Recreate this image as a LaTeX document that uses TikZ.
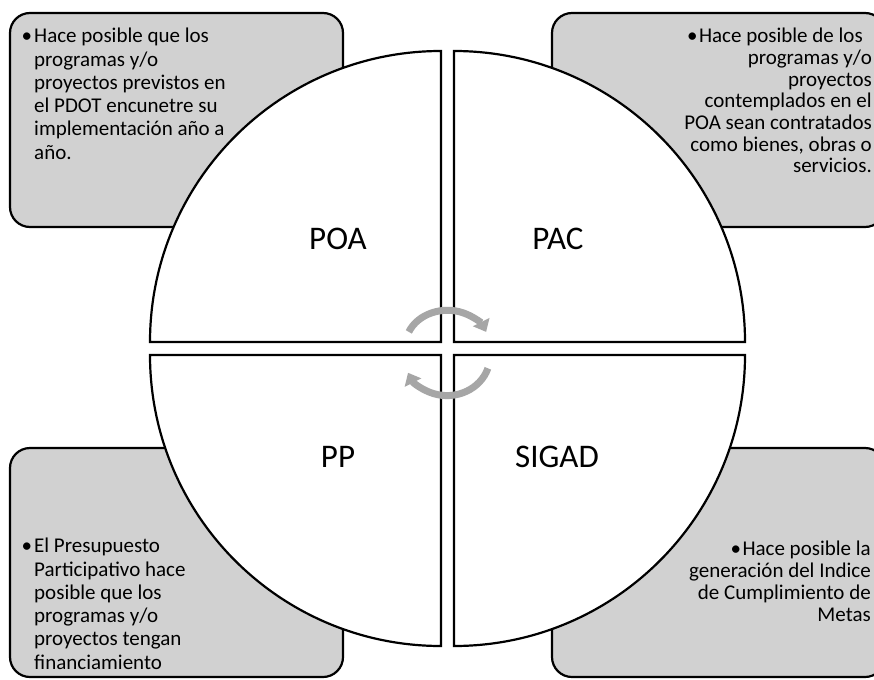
\documentclass[tikz,border=0pt]{standalone}
\usepackage{fontspec}
\setmainfont{Carlito}
\usetikzlibrary{arrows.meta}
\definecolor{boxgray}{RGB}{209,209,209}
\definecolor{arrowgray}{RGB}{166,166,166}
\begin{document}
\begin{tikzpicture}[x=1pt,y=-1pt,
  infobox/.style={draw=black, line width=2.2pt, fill=boxgray, rounded corners=20pt, inner sep=0pt},
  quad/.style={draw=black, line width=2.2pt, fill=white, line join=miter},
  cyc/.style={draw=arrowgray, line width=7pt, -{Triangle[width=18pt,length=11pt]}},
  qlabel/.style={font=\fontsize{33}{40}\selectfont, inner sep=0pt},
  ltext/.style={font=\fontsize{21}{23.3}\selectfont, align=left, inner sep=0pt, anchor=north west},
  rtext/.style={font=\fontsize{21}{21.7}\selectfont, align=right, inner sep=0pt, anchor=north east}]
\useasboundingbox (0,0) rectangle (874,679);
\fill[white] (0,0) rectangle (874,679);
% side boxes
\node[infobox, minimum width=333pt, minimum height=214pt] (boxTL) at (176.5,120) {};
\node[infobox, minimum width=333pt, minimum height=214pt] (boxTR) at (718.5,120) {};
\node[infobox, minimum width=333pt, minimum height=229pt] (boxBL) at (176.5,562.5) {};
\node[infobox, minimum width=333pt, minimum height=229pt] (boxBR) at (718.5,562.5) {};
% quadrants
\draw[quad] (441,342) -- (150,342) arc[start angle=180, end angle=270, radius=291] -- cycle;
\draw[quad] (454,342) -- (454,51) arc[start angle=270, end angle=360, radius=291] -- cycle;
\draw[quad] (441,355) -- (150,355) arc[start angle=180, end angle=90, radius=291] -- cycle;
\draw[quad] (454,355) -- (745,355) arc[start angle=0, end angle=90, radius=291] -- cycle;
% cycle arrows
\coordinate (c1s) at (408.8,331.9);
\coordinate (c2s) at (487.9,368.3);
\draw[cyc] (c1s) arc[start angle=203, end angle=337, x radius=42, y radius=35.5];
\draw[cyc] (c2s) arc[start angle=18, end angle=155, x radius=43, y radius=39.5];
% labels
\node[qlabel] (poa) at (338,239) {POA};
\node[qlabel] (pac) at (558,239) {PAC};
\node[qlabel] (pp) at (338,457) {PP};
\node[qlabel] (sigad) at (557,457) {SIGAD};
% texts
\node[ltext] (tTL) at (34,28) {\llap{•\hspace{2pt}}Hace posible que los\\programas y/o\\proyectos previstos en\\el PDOT encunetre su\\implementación año a\\año.};
\node[rtext] (tTR) at (872,28) {•\hspace{1.5pt}Hace posible de los\hspace*{9pt}\\programas y/o\hspace*{7pt}\\proyectos\hspace*{7pt}\\contemplados en el\\POA sean contratados\\como bienes, obras o\hspace*{2pt}\\servicios.};
\node[ltext] (tBL) at (34,538) {\llap{•\hspace{2pt}}El Presupuesto\\Participativo hace\\posible que los\\programas y/o\\proyectos tengan\\financiamiento};
\node[rtext, font=\fontsize{21}{22}\selectfont] (tBR) at (871,541) {•\hspace{1.5pt}Hace posible la\\generación del Indice\\de Cumplimiento de\\Metas};
\end{tikzpicture}
\end{document}
